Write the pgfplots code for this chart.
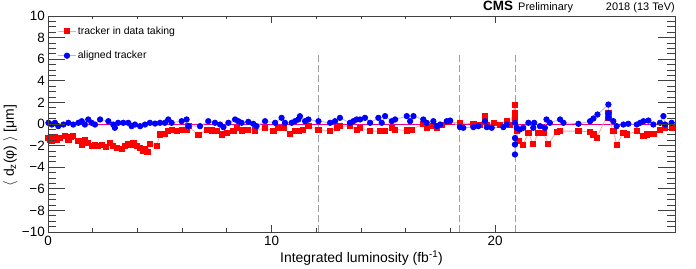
\documentclass[border=0pt]{standalone}
\usepackage{pgfplots}
\pgfplotsset{compat=1.18}
\usepackage{fontspec}
\setmainfont{Liberation Sans}
\begin{document}
\begin{tikzpicture}
\begin{axis}[
  name=main,
  width=627bp, height=216bp, scale only axis,
  xmin=0, xmax=28.05, ymin=-10, ymax=10,
  xtick={0,10,20}, minor x tick num=4,
  ytick=\empty,
  tick pos=both, tick align=inside,
  major tick length=7bp, minor tick length=3.5bp,
  axis line style={black!75, line width=0.7bp},
  every tick/.style={black!75, line width=0.7bp},
  xticklabel style={font=\fontsize{13.5}{15}\selectfont, anchor=north, inner sep=0pt, yshift=-4bp},
  /pgf/number format/assume math mode=true,
  xlabel={Integrated luminosity (fb\textsuperscript{-1})},
  xlabel style={font=\fontsize{14}{16}\selectfont, anchor=base, at={(axis description cs:0.5,-0.14)}},
  legend style={at={(axis description cs:0.011,0.975)}, anchor=north west, draw=none, fill=white,
    font=\fontsize{10.5}{12.5}\selectfont, row sep=11.5bp, inner xsep=3bp, inner ysep=3bp},
  legend cell align=left,
]
\addplot[magenta, line width=0.8bp, forget plot] coordinates {(0,0) (28.05,0)};
\addplot[gray!75, dash pattern=on 7bp off 3bp, line width=0.9bp, forget plot] coordinates {(12.09,-10) (12.09,6.6)};
\addplot[gray!75, dash pattern=on 7bp off 3bp, line width=0.9bp, forget plot] coordinates {(18.42,-10) (18.42,6.6)};
\addplot[gray!75, dash pattern=on 7bp off 3bp, line width=0.9bp, forget plot] coordinates {(20.9,-10) (20.9,6.6)};
\addplot[red!35, line width=0.8bp, mark=square*, mark size=2.6bp, mark options={red, draw=red, fill=red}] coordinates {
(0.02,-1.28) (0.1,-1.44) (0.17,-1.59) (0.31,-1.22) (0.4,-1.5) (0.54,-1.28) (0.76,-1.13) (0.91,-1.44) (1.0,-1.2) (1.13,-1.13)
(1.36,-1.59) (1.51,-1.9) (1.65,-1.44) (1.8,-1.74) (1.95,-2.05) (2.1,-1.9) (2.25,-2.05) (2.4,-1.9) (2.6,-2.1) (2.77,-1.74)
(2.92,-2.05) (3.07,-2.2) (3.3,-2.3) (3.44,-2.05) (3.59,-1.84) (3.7,-1.9) (3.82,-1.74) (3.97,-2.05) (4.12,-2.2) (4.27,-2.52)
(4.34,-2.36) (4.45,-2.62) (4.56,-1.84) (4.86,-2.05) (5.01,-0.97) (5.23,-0.91) (5.38,-0.66) (5.53,-0.51) (5.76,-0.66) (5.98,-0.51)
(6.2,-0.51) (6.28,-0.2) (6.73,-1.03) (7.1,-0.51) (7.32,-0.6) (7.55,-0.66) (7.77,-0.97) (7.99,-0.82) (8.29,-0.66) (8.44,-0.35)
(8.67,-0.6) (8.96,-0.51) (9.26,-0.6) (9.71,-0.35) (10.08,-0.66) (10.3,-0.35) (10.53,-0.35) (10.83,-0.91) (11.05,-0.66) (11.2,-0.66)
(11.42,-0.51) (11.65,-0.2) (12.1,-0.51) (12.62,-0.66) (12.91,-0.35) (13.06,-0.2) (13.51,-0.2) (13.81,-0.51) (13.96,-0.35) (14.41,-0.66)
(14.86,-0.66) (15.08,-0.66) (15.38,-0.35) (15.53,-0.51) (16.05,-0.6) (16.27,-0.51) (16.79,0.02) (16.94,-0.35) (17.24,-0.2) (17.39,-0.35)
(17.61,-0.11) (17.91,0.2) (18.43,0.11) (19.03,0.02) (19.33,-0.05) (19.55,0.7) (19.63,-0.11) (19.93,0.11) (20.22,-0.05) (20.52,0.32)
(20.67,-0.05) (20.89,1.8) (20.89,1.04) (20.9,0.57) (20.97,-0.66) (21.04,-1.59) (21.26,-1.9) (21.49,-0.82) (21.71,-1.84) (21.94,-0.82)
(22.16,-0.82) (22.38,-1.84) (22.76,-0.72) (22.91,-0.66) (23.73,-0.66) (24.25,-0.72) (24.4,-0.97) (24.55,-1.28) (25.07,1.04) (25.07,0.57)
(25.29,-0.66) (25.44,-1.9) (25.74,-0.82) (25.89,-0.97) (26.34,-0.66) (26.64,-1.12) (26.78,-0.97) (27.08,-0.91) (27.38,-0.51) (27.61,-0.35)
(27.9,-0.35)
};
\addlegendentry{tracker in data taking}
\addplot[blue!30, line width=0.8bp, mark=*, mark size=2.7bp, mark options={blue, draw=blue, fill=blue}] coordinates {
(0.02,0.11) (0.17,-0.05) (0.31,0.11) (0.46,-0.2) (0.69,-0.05) (0.91,0.11) (1.13,-0.05) (1.36,0.11) (1.51,0.26) (1.65,-0.05)
(1.8,0.42) (1.95,0.11) (2.1,-0.05) (2.33,0.42) (2.7,0.26) (2.92,-0.05) (2.99,-0.35) (3.14,0.11) (3.37,0.11) (3.59,0.11)
(3.74,-0.2) (3.89,-0.05) (4.12,-0.2) (4.34,-0.05) (4.56,0.11) (4.79,0.04) (5.01,0.11) (5.23,0.11) (5.38,0.42) (5.53,0.11)
(5.98,0.26) (6.2,0.42) (6.28,-0.2) (6.8,-0.2) (7.17,0.26) (7.47,0.11) (7.7,-0.05) (7.85,-0.29) (8.07,0.11) (8.37,0.42)
(8.51,0.26) (8.66,0.11) (8.96,0.2) (9.18,0.02) (9.33,-0.2) (9.71,0.26) (10.16,0.11) (10.45,0.57) (10.6,0.11) (10.9,0.11)
(11.05,0.26) (11.2,0.42) (11.27,0.72) (11.5,0.26) (11.65,0.42) (12.1,0.26) (12.62,0.11) (12.84,0.26) (13.06,0.57) (13.51,0.11)
(13.66,0.26) (13.81,0.42) (13.96,0.42) (14.18,0.57) (14.41,0.11) (14.78,0.57) (14.93,0.11) (15.08,0.73) (15.38,0.26) (15.53,0.42)
(16.05,0.73) (16.2,0.26) (16.35,0.73) (16.79,0.42) (16.94,0.11) (17.24,0.26) (17.39,-0.2) (17.54,-0.05) (17.84,0.26) (17.99,0.32)
(18.43,-0.29) (18.58,-0.35) (19.03,-0.29) (19.25,-0.2) (19.55,0.26) (19.63,-0.29) (19.85,-0.35) (20.37,-0.29) (20.52,-0.05) (20.89,0.11)
(20.89,-1.3) (20.89,-1.9) (20.89,-2.82) (20.97,-0.35) (21.11,-0.51) (21.26,-0.35) (21.49,0.11) (21.71,-0.35) (21.75,0.11) (22.01,-0.2)
(22.23,-0.35) (22.3,0.42) (22.45,0.11) (22.91,0.42) (23.06,0.11) (23.73,0.02) (24.25,0.26) (24.4,0.51) (24.58,0.88) (25.07,1.8)
(25.07,1.0) (25.07,0.57) (25.29,0.26) (25.44,-0.2) (25.74,-0.05) (25.96,0.02) (26.34,-0.05) (26.49,0.11) (26.64,0.26) (26.86,0.32)
(27.08,-0.05) (27.38,0.11) (27.53,0.73) (27.61,-0.05) (27.9,0.11)
};
\addlegendentry{aligned tracker}
\end{axis}
\begin{axis}[
  width=627bp, height=216bp, scale only axis,
  xmin=0, xmax=28.05, ymin=-10, ymax=10,
  hide x axis,
  ytick={-10,-8,-6,-4,-2,0,2,4,6,8,10},
  yticklabels={−10,−8,−6,−4,−2,0,2,4,6,8,10},
  minor y tick num=3,
  tick pos=both, tick align=inside,
  major tick length=17bp, minor tick length=8.5bp,
  axis line style={black!75, line width=0.7bp},
  every tick/.style={black!75, line width=0.7bp},
  yticklabel style={font=\fontsize{13.5}{15}\selectfont, anchor=east, inner sep=0pt, xshift=-3bp},
  ylabel={$\langle$ d\textsubscript{z}(φ) $\rangle$ [μm]},
  ylabel style={font=\fontsize{14}{16}\selectfont, anchor=center, at={(axis description cs:-0.06,0.40)}},
]
\end{axis}
\node[anchor=base west, font=\fontsize{13.5}{15}\selectfont\bfseries, inner sep=0pt] at ([shift={(435bp,5bp)}]main.north west) {CMS};
\node[anchor=base west, font=\fontsize{11}{13}\selectfont, inner sep=0pt] at ([shift={(470bp,5bp)}]main.north west) {Preliminary};
\node[anchor=base east, font=\fontsize{11}{13}\selectfont, inner sep=0pt] at ([shift={(0bp,5bp)}]main.north east) {2018 (13 TeV)};
\pgfresetboundingbox
\path ([shift={(-48bp,-37bp)}]main.south west) rectangle ([shift={(21bp,16bp)}]main.north east);
\end{tikzpicture}
\end{document}
